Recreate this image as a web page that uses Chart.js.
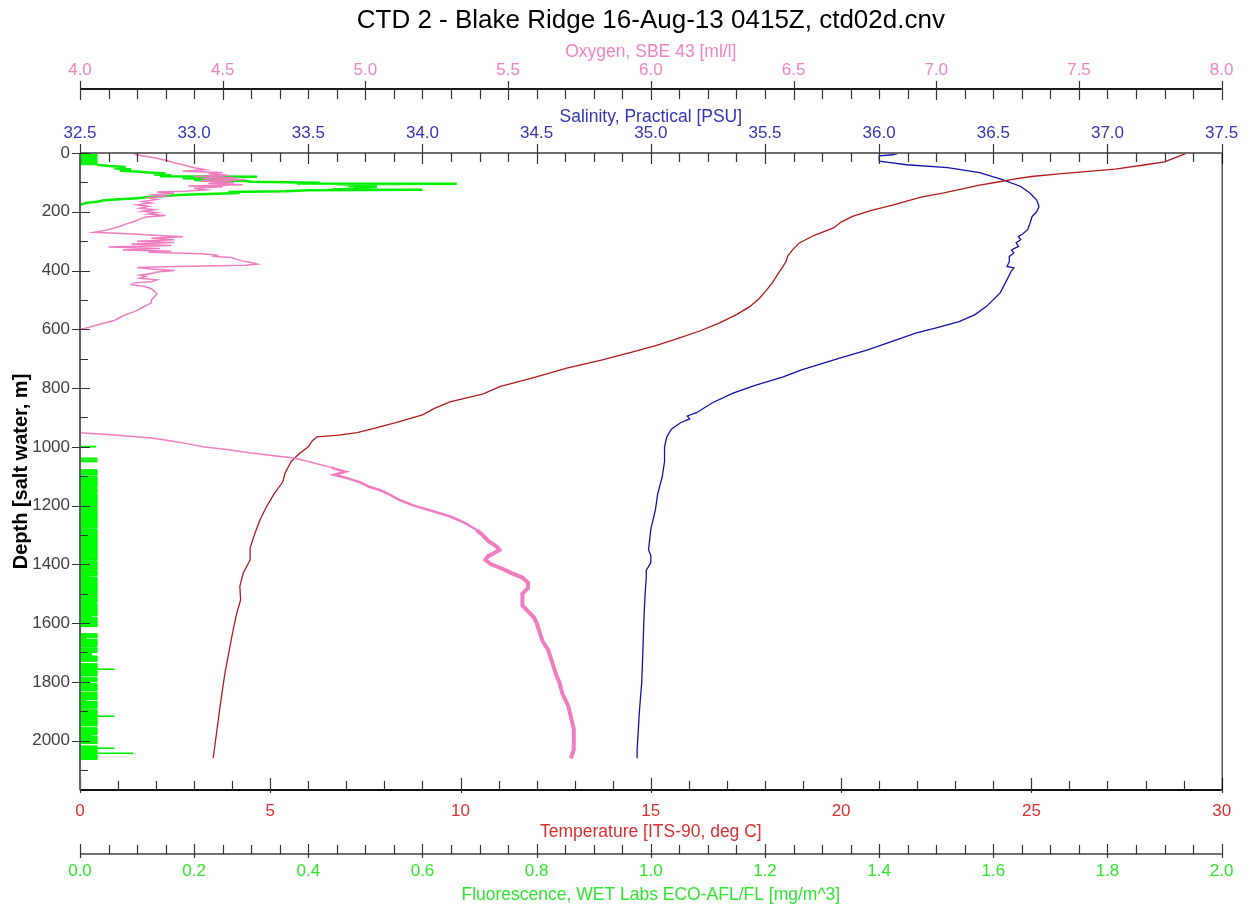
<!DOCTYPE html>
<html>
<head>
<meta charset="utf-8">
<title>CTD 2 - Blake Ridge</title>
<script src="https://cdn.jsdelivr.net/npm/chart.js@4/dist/chart.umd.min.js"></script>
<style>
  html, body { margin: 0; padding: 0; background: #fff; }
  #wrap { width: 1248px; height: 909px; }
</style>
</head>
<body>
<div id="wrap"><canvas id="ctd" width="1248" height="909"></canvas></div>
<script>
// ---- data (depth in m) ----
const depthMax = 2168;
const depthTicks = [0, 200, 400, 600, 800, 1000, 1200, 1400, 1600, 1800, 2000];

const tempDepth = [
  2, 15, 30, 40, 55, 70, 80, 90, 97, 110,
  125, 136, 150, 165, 176, 195, 216, 235, 255, 280,
  306, 329, 350, 370, 387, 410, 440, 465, 495, 523,
  550, 578, 605, 629, 655, 677, 705, 732, 765, 795,
  820, 847, 870, 891, 918, 940, 952, 960, 966, 980,
  1000, 1021, 1050, 1089, 1119, 1160, 1204, 1248, 1293, 1344,
  1385, 1429, 1475, 1521, 1566, 1620, 1680, 1769, 1830, 1884,
  1962, 2059
];
const tempValue = [
  29.05, 28.8, 28.5, 28.0, 27.2, 25.8, 25.0, 24.5, 24.2, 23.6,
  23.1, 22.7, 22.1, 21.7, 21.4, 20.8, 20.3, 20.0, 19.8, 19.3,
  18.9, 18.73, 18.6, 18.55, 18.47, 18.35, 18.2, 18.05, 17.85, 17.6,
  17.25, 16.81, 16.3, 15.76, 15.15, 14.53, 13.7, 12.79, 11.9, 11.03,
  10.6, 9.72, 9.3, 9.0, 8.3, 7.65, 7.28, 6.8, 6.23, 6.1,
  6.0, 5.78, 5.55, 5.39, 5.33, 5.1, 4.9, 4.73, 4.6, 4.47,
  4.47, 4.29, 4.2, 4.22, 4.12, 4.03, 3.94, 3.81, 3.74, 3.68,
  3.6, 3.5
];

const salDepth = [
  2, 6, 10, 28, 33, 40, 50, 67, 91, 114,
  136, 160, 182, 200, 216, 240, 261, 275, 284, 295,
  305, 318, 330, 340, 352, 370, 386, 391, 400, 431,
  476, 522, 550, 574, 595, 613, 640, 670, 700, 738,
  762, 790, 817, 850, 884, 895, 905, 918, 940, 966,
  1000, 1050, 1102, 1160, 1215, 1280, 1351, 1370, 1395, 1420,
  1443, 1500, 1579, 1700, 1803, 1900, 2031, 2060
];
const salValue = [
  36.08, 36.06, 36.0, 36.0, 36.05, 36.12, 36.3, 36.44, 36.54, 36.62,
  36.66, 36.69, 36.70, 36.69, 36.67, 36.66, 36.65, 36.63, 36.61, 36.62,
  36.60, 36.61, 36.58, 36.59, 36.57, 36.57, 36.56, 36.59, 36.58, 36.56,
  36.53, 36.47, 36.42, 36.35, 36.25, 36.16, 36.06, 35.95, 35.82, 35.66,
  35.58, 35.46, 35.36, 35.27, 35.2, 35.16, 35.17, 35.13, 35.09, 35.07,
  35.06, 35.06, 35.05, 35.03, 35.02, 35.0, 34.99, 35.0, 35.0, 34.98,
  34.98, 34.975, 34.97, 34.965, 34.96, 34.95, 34.94, 34.94
];

const oxyDepth = [
  4, 10, 16, 25, 33, 40, 50, 57, 62, 66,
  71, 76, 80, 84, 88, 91, 95, 100, 104, 108,
  112, 115, 120, 125, 130, 133, 137, 142, 147, 152,
  158, 165, 170, 176, 182, 188, 193, 198, 203, 208,
  213, 218, 225, 233, 242, 250, 258, 265, 270, 274,
  280, 285, 290, 295, 300, 305, 310, 315, 320, 325,
  330, 334, 338, 343, 348, 352, 356, 362, 368, 373,
  378, 382, 386, 390, 395, 400, 405, 410, 416, 420,
  426, 432, 438, 442, 448, 455, 462, 470, 480, 490,
  500, 510, 520, 530, 540, 550, 560, 570, 580, 588,
  596, 603, 650, 720, 800, 880, 940, 952, 960, 970,
  980, 990, 1000, 1010, 1021, 1030, 1038, 1050, 1060, 1070,
  1080, 1085, 1090, 1095, 1105, 1120, 1135, 1147, 1160, 1181,
  1200, 1220, 1238, 1260, 1283, 1300, 1320, 1340, 1351, 1362,
  1372, 1385, 1400, 1415, 1429, 1445, 1463, 1480, 1500, 1521,
  1540, 1560, 1580, 1600, 1630, 1660, 1691, 1720, 1750, 1780,
  1803, 1840, 1880, 1919, 1960, 2000, 2031, 2060
];
const oxyValue = [
  4.19, 4.22, 4.26, 4.30, 4.33, 4.36, 4.40, 4.44, 4.36, 4.50,
  4.45, 4.52, 4.40, 4.55, 4.43, 4.58, 4.42, 4.54, 4.45, 4.57,
  4.38, 4.50, 4.40, 4.44, 4.37, 4.27, 4.33, 4.26, 4.30, 4.24,
  4.27, 4.22, 4.25, 4.20, 4.24, 4.21, 4.26, 4.22, 4.27, 4.24,
  4.30, 4.23, 4.21, 4.19, 4.16, 4.14, 4.11, 4.08, 4.05, 4.15,
  4.26, 4.36, 4.25, 4.33, 4.20, 4.33, 4.18, 4.32, 4.10, 4.28,
  4.15, 4.32, 4.24, 4.43, 4.48, 4.47, 4.53, 4.55, 4.57, 4.60,
  4.62, 4.58, 4.34, 4.20, 4.25, 4.33, 4.27, 4.25, 4.21, 4.23,
  4.21, 4.27, 4.25, 4.19, 4.18, 4.23, 4.25, 4.26, 4.27, 4.26,
  4.25, 4.25, 4.23, 4.21, 4.19, 4.16, 4.14, 4.12, 4.08, 4.05,
  4.02, 3.98, 3.80, 3.65, 3.60, 3.70, 3.92, 4.00, 4.12, 4.25,
  4.32, 4.38, 4.43, 4.52, 4.60, 4.68, 4.75, 4.80, 4.84, 4.88,
  4.91, 4.93, 4.91, 4.89, 4.93, 4.98, 5.01, 5.05, 5.08, 5.12,
  5.17, 5.24, 5.30, 5.35, 5.39, 5.41, 5.43, 5.46, 5.47, 5.45,
  5.43, 5.42, 5.44, 5.48, 5.51, 5.55, 5.57, 5.57, 5.55, 5.55,
  5.55, 5.57, 5.59, 5.60, 5.61, 5.62, 5.64, 5.65, 5.66, 5.67,
  5.68, 5.69, 5.71, 5.72, 5.73, 5.73, 5.73, 5.72
];

// chlorophyll maximum near the surface
const fluorPeakDepth = [
  40, 44, 48, 52, 56, 60, 63, 66, 70, 73,
  76, 79, 81, 83, 86, 89, 92, 95, 98, 101,
  104, 105, 106, 109, 112, 115, 118, 121, 124, 125,
  127, 130, 133, 136, 139, 142, 146, 150, 154, 158,
  162, 166, 170, 176
];
const fluorPeakValue = [
  0.03, 0.05, 0.08, 0.06, 0.09, 0.07, 0.10, 0.12, 0.15, 0.13,
  0.16, 0.14, 0.31, 0.20, 0.18, 0.27, 0.20, 0.29, 0.30, 0.42,
  0.38, 0.66, 0.45, 0.50, 0.47, 0.52, 0.48, 0.50, 0.44, 0.60,
  0.40, 0.36, 0.26, 0.28, 0.24, 0.18, 0.15, 0.12, 0.10, 0.06,
  0.04, 0.03, 0.01, 0.0
];

// low-level noise band (value holds from each depth down to the next)
const fluorBandDepth = [
  0, 12, 15, 33, 36, 40, 990, 998, 1001, 1038,
  1042, 1046, 1051, 1078, 1096, 1100, 1138, 1141, 1155, 1158,
  1200, 1203, 1275, 1279, 1385, 1388, 1420, 1423, 1440, 1444,
  1500, 1503, 1530, 1534, 1575, 1580, 1612, 1636, 1650, 1655,
  1680, 1684, 1700, 1712, 1730, 1738, 1756, 1758, 1780, 1786,
  1800, 1806, 1830, 1835, 1860, 1866, 1890, 1895, 1916, 1918,
  1950, 1956, 1980, 1985, 2010, 2018, 2025, 2027, 2042, 2044,
  2066
];
const fluorBandValue = [
  0.03, 0.02, 0.03, 0.01, 0.03, 0, 0, 0.028, 0, 0.03,
  0, 0.03, 0, 0.03, 0, 0.03, 0, 0.03, 0.02, 0.03,
  0, 0.03, 0, 0.03, 0, 0.03, 0, 0.03, 0.015, 0.03,
  0, 0.03, 0.02, 0.03, 0.02, 0.03, 0, 0.03, 0.01, 0.03,
  0, 0.03, 0.02, 0.03, 0, 0.03, 0.06, 0.03, 0, 0.03,
  0.015, 0.03, 0, 0.03, 0.01, 0.03, 0, 0.03, 0.06, 0.03,
  0, 0.03, 0.02, 0.03, 0, 0.03, 0.06, 0.03, 0.093, 0.03,
  0.03
];

// axis ranges and tick steps
const oxyRange = [4, 8], oxyStep = 0.5;
const salRange = [32.5, 37.5], salStep = 0.5;
const tempRange = [0, 30], tempStep = 5;
const fluorRange = [0, 2], fluorStep = 0.2;

const FONT = "'Liberation Sans', Arial, sans-serif";
const PINK = '#f07cc0', BLUE = '#1212a6', RED = '#b01a1a', GREEN = '#00ee00';

function pts(depths, values) {
  return depths.map((d, i) => ({ x: values[i], y: d }));
}

function valueAxis(o) {
  return {
    type: 'linear',
    axis: 'x',
    position: o.position,
    weight: o.weight,
    min: o.range[0],
    max: o.range[1],
    grid: { display: false, drawTicks: false },
    border: { display: false },
    ticks: {
      stepSize: o.step,
      autoSkip: false,
      maxRotation: 0,
      padding: o.labelPad,
      color: o.color,
      font: { family: FONT, size: 17 },
      callback: v => v.toFixed(o.decimals)
    },
    title: {
      display: true,
      text: o.title,
      color: o.color,
      font: { family: FONT, size: 17.5 },
      padding: o.titlePad
    },
    afterFit: s => { s.height = o.height; }
  };
}

// draws the axis lines and major/minor tick marks the way the CTD software does
const axisFrame = {
  id: 'axisFrame',
  afterDraw(chart) {
    const { ctx, chartArea: area, scales } = chart;
    ctx.save();
    const rows = [
      [scales.xO, scales.xO.bottom, 0.1, 5, [-8, 11], [0, 10], '#1a1a1a'],
      [scales.xS, area.top, 0.125, 4, [-9, 11], [0, 9], '#6e6e6e'],
      [scales.xT, area.bottom, 1, 5, [-12, 3], [-9, 0], '#111111'],
      [scales.xF, scales.xF.top, 0.05, 4, [-10, 4], [-9, 0], '#707070']
    ];
    rows.forEach(([s, y, step, every, maj, mnr, col]) => {
      ctx.strokeStyle = col;
      ctx.lineWidth = 2;
      ctx.beginPath();
      ctx.moveTo(area.left, y);
      ctx.lineTo(area.right, y);
      ctx.stroke();
      ctx.strokeStyle = '#333';
      ctx.lineWidth = 1.2;
      ctx.beginPath();
      const n = Math.round((s.max - s.min) / step);
      for (let i = 0; i <= n; i++) {
        const x = Math.round(s.getPixelForValue(s.min + i * step)) + 0.5;
        const span = i % every === 0 ? maj : mnr;
        ctx.moveTo(x, y + span[0]);
        ctx.lineTo(x, y + span[1]);
      }
      ctx.stroke();
    });

    // depth axis
    const ys = scales.y;
    ctx.strokeStyle = '#606060';
    ctx.lineWidth = 2;
    ctx.beginPath();
    ctx.moveTo(area.left, area.top);
    ctx.lineTo(area.left, area.bottom);
    ctx.stroke();
    ctx.strokeStyle = '#333';
    ctx.lineWidth = 1.2;
    ctx.beginPath();
    for (let i = 0; i * 100 <= ys.max; i++) {
      const y = Math.round(ys.getPixelForValue(i * 100)) + 0.5;
      if (i % 2 === 0) { ctx.moveTo(area.left - 8, y); ctx.lineTo(area.left + 10, y); }
      else { ctx.moveTo(area.left, y); ctx.lineTo(area.left + 8, y); }
    }
    ctx.stroke();

    // right frame
    ctx.strokeStyle = '#000';
    ctx.lineWidth = 1;
    ctx.beginPath();
    ctx.moveTo(area.right + 0.5, area.top);
    ctx.lineTo(area.right + 0.5, area.bottom);
    ctx.stroke();
    ctx.restore();
  }
};

new Chart(document.getElementById('ctd'), {
  type: 'line',
  data: {
    datasets: [
      {
        label: 'Oxygen',
        data: pts(oxyDepth, oxyValue),
        xAxisID: 'xO', yAxisID: 'y',
        borderColor: PINK,
        borderWidth: 1.5,
        pointRadius: 0,
        segment: {
          borderWidth: c => c.p0.parsed.y > 1280 ? 4 : (c.p0.parsed.y > 1060 ? 2.5 : 1.5)
        }
      },
      {
        label: 'Temperature',
        data: pts(tempDepth, tempValue),
        xAxisID: 'xT', yAxisID: 'y',
        borderColor: RED,
        borderWidth: 1.3,
        pointRadius: 0
      },
      {
        label: 'Salinity',
        data: pts(salDepth, salValue),
        xAxisID: 'xS', yAxisID: 'y',
        borderColor: BLUE,
        borderWidth: 1.3,
        pointRadius: 0
      },
      {
        label: 'Fluorescence',
        data: pts(fluorPeakDepth, fluorPeakValue),
        xAxisID: 'xF', yAxisID: 'y',
        borderColor: GREEN,
        borderWidth: 2.5,
        pointRadius: 0
      },
      {
        label: 'Fluorescence band',
        data: pts(fluorBandDepth, fluorBandValue),
        xAxisID: 'xF', yAxisID: 'y',
        borderColor: GREEN,
        backgroundColor: '#00ff00',
        borderWidth: 1,
        stepped: 'after',
        fill: { value: 0 },
        pointRadius: 0
      }
    ]
  },
  options: {
    responsive: false,
    animation: false,
    events: [],
    indexAxis: 'y',
    layout: { padding: { left: 0, right: 26, top: 0, bottom: 0 } },
    plugins: {
      legend: { display: false },
      tooltip: { enabled: false },
      title: {
        display: true,
        fullSize: false,
        text: 'CTD 2 - Blake Ridge 16-Aug-13 0415Z, ctd02d.cnv',
        color: '#000',
        font: { family: FONT, size: 26, weight: 'normal' },
        padding: { top: 5.4, bottom: 3.4 }
      }
    },
    scales: {
      xO: valueAxis({
        position: 'top', weight: 2, range: oxyRange, step: oxyStep, decimals: 1,
        title: 'Oxygen, SBE 43 [ml/l]', color: '#ee82c4',
        labelPad: 8.8, titlePad: { top: 1.2, bottom: 0 }, height: 49
      }),
      xS: valueAxis({
        position: 'top', weight: 1, range: salRange, step: salStep, decimals: 1,
        title: 'Salinity, Practical [PSU]', color: '#3434b4',
        labelPad: 9.8, titlePad: { top: 17.2, bottom: 0 }, height: 64
      }),
      xT: valueAxis({
        position: 'bottom', weight: 1, range: tempRange, step: tempStep, decimals: 0,
        title: 'Temperature [ITS-90, deg C]', color: '#d63030',
        labelPad: 10.8, titlePad: { top: 0, bottom: 11.7 }, height: 64
      }),
      xF: valueAxis({
        position: 'bottom', weight: 2, range: fluorRange, step: fluorStep, decimals: 1,
        title: 'Fluorescence, WET Labs ECO-AFL/FL [mg/m^3]', color: '#2ee62e',
        labelPad: 7.3, titlePad: { top: 0, bottom: 3.2 }, height: 55
      }),
      y: {
        type: 'linear',
        axis: 'y',
        position: 'left',
        reverse: true,
        min: 0,
        max: depthMax,
        grid: { display: false, drawTicks: false },
        border: { display: false },
        afterBuildTicks: s => { s.ticks = depthTicks.map(v => ({ value: v })); },
        ticks: {
          autoSkip: false,
          padding: 10,
          color: '#404040',
          font: { family: FONT, size: 17 },
          callback: v => String(v)
        },
        title: {
          display: true,
          text: 'Depth [salt water, m]',
          color: '#000',
          font: { family: FONT, size: 20, weight: 'bold' },
          padding: { top: 9, bottom: 0 }
        },
        afterFit: s => { s.width = 80; }
      }
    }
  },
  plugins: [axisFrame]
});
</script>
</body>
</html>
